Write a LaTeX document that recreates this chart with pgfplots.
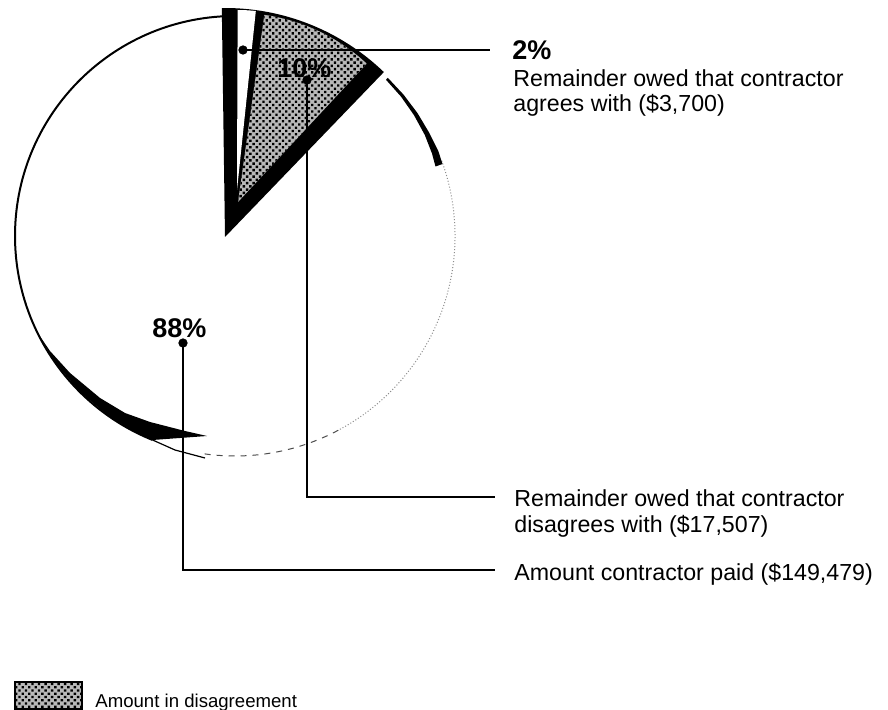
\documentclass[border=0pt]{standalone}
\usepackage{pgfplots}
\usepackage{pgfplotstable}
\pgfplotsset{compat=1.18}
\usetikzlibrary{patterns.meta}
\usepackage{fontspec}
\setmainfont{Liberation Sans}

% amounts owed on the contract
\pgfplotstableread{
part value
agrees 3700
disagrees 17507
paid 149479
}\owedtable

\pgfplotstablegetelem{0}{value}\of\owedtable \edef\vA{\pgfplotsretval}
\pgfplotstablegetelem{1}{value}\of\owedtable \edef\vB{\pgfplotsretval}
\pgfplotstablegetelem{2}{value}\of\owedtable \edef\vC{\pgfplotsretval}
\edef\total{\fpeval{\vA+\vB+\vC}}
% slice angles, clockwise from just left of twelve o'clock
\def\startA{90.8}
\edef\endA{\fpeval{\startA-360*\vA/\total}}
\edef\endB{\fpeval{\endA-360*\vB/\total}}
\edef\endC{\fpeval{\endB-360*\vC/\total}}
% exploded slices, trimmed a little to leave a dark rim
\edef\wA{\fpeval{\startA-1}}
\edef\wB{\fpeval{\endA+1}}
\edef\gA{\fpeval{\endA-1}}
\edef\gB{\fpeval{\endB+1}}

\tikzset{
  halftone/.style={fill=black!28, postaction={pattern={Dots[distance=2.3pt, radius=0.86pt, angle=45]}}},
  lbl/.style={anchor=base west, inner sep=0pt, font=\fontsize{11.6}{13}\selectfont},
  pct/.style={anchor=base west, inner sep=0pt, font=\fontsize{13.5}{15}\selectfont\bfseries},
}

\begin{document}
\begin{tikzpicture}
\begin{axis}[
  scale only axis, width=444pt, height=355pt,
  xmin=0, xmax=888, ymin=0, ymax=710, y dir=reverse,
  hide axis, clip=false,
]
\coordinate (frameA) at (axis cs:0,710);
\coordinate (frameB) at (axis cs:888,0);

% amount paid: the large slice
\fill[white] (axis cs:235,236) -- ++(\endB:110pt)
  arc[start angle=\endB, end angle=\endC, radius=110pt] -- cycle;
\draw[line width=1pt] (axis cs:235,236) ++(\startA:110pt)
  arc[start angle=\startA, end angle=248, radius=110pt];
\draw[black!45, line width=0.5pt, densely dotted] (axis cs:235,236) ++(20:110pt)
  arc[start angle=20, end angle=-62, radius=110pt];
\draw[black!70, line width=0.5pt, dashed] (axis cs:235,236) ++(-62:110pt)
  arc[start angle=-62, end angle=-98, radius=110pt];

% dark rim on the upper right, widening downwards
\addplot[fill=black, draw=none] coordinates {
  (387.8,77.8) (403.5,94.6) (417.4,113.0) (429.2,132.7) (438.3,151.0) (442.5,164.0)
  (435.5,166.5) (432.0,153.5) (424.8,135.0) (414.0,115.2) (401.0,96.6) (386.0,79.8)
} -- cycle;

% dark edge along the lower left
\addplot[fill=black, draw=none] coordinates {
  (37.3,332.4) (54.8,362.2) (79.4,391.6) (108.8,416.2) (135.1,432.0) (152.6,440.0)
  (207,436) (185,431) (150,422) (125,413) (100,398) (70,373) (50,351)
} -- cycle;
\addplot[black, line width=0.6pt] coordinates {(152.6,440) (175,450) (205,458)};

% dark bed under the two small slices
\fill[black] (axis cs:225,237) -- ++(\startA:114.5pt)
  arc[start angle=\startA, end angle=\endB, radius=114.5pt] -- cycle;
% remainder agreed to
\fill[white] (axis cs:237,190) -- ++(\wA:90pt)
  arc[start angle=\wA, end angle=\wB, radius=90pt] -- cycle;
% remainder in disagreement
\fill[halftone] (axis cs:238,202) -- ++(\gA:94.5pt)
  arc[start angle=\gA, end angle=\gB, radius=94.5pt] -- cycle;

% leader lines
\addplot[black, line width=1pt] coordinates {(243,50) (490,50)};
\addplot[black, line width=1pt] coordinates {(307,80) (307,497) (495,497)};
\addplot[black, line width=1pt] coordinates {(183,343) (183,570) (495,570)};
\addplot[black, only marks, mark=*, mark size=2.1pt] coordinates {(243,50) (307,80) (183,343)};

% labels
\node[pct] at (axis cs:512,60) {2\%};
\node[lbl] at (axis cs:513,87) {Remainder owed that contractor};
\node[lbl] at (axis cs:513,112) {agrees with (\$3,700)};
\node[pct] at (axis cs:277,78) {10\%};
\node[pct] at (axis cs:152,338) {88\%};
\node[lbl] at (axis cs:514,507) {Remainder owed that contractor};
\node[lbl] at (axis cs:514,532) {disagrees with (\$17,507)};
\node[lbl] at (axis cs:514,580) {Amount contractor paid (\$149,479)};

% key
\draw[halftone, draw=black, line width=0.6pt] (axis cs:15,682) rectangle (axis cs:82,709);
\node[anchor=base west, inner sep=0pt, font=\fontsize{9.3}{11}\selectfont] at (axis cs:95,707) {Amount in disagreement};
\end{axis}
% keep the page to the plotting frame (arc control points reach past it)
\pgfresetboundingbox
\path (frameA) rectangle (frameB);
\end{tikzpicture}
\end{document}
